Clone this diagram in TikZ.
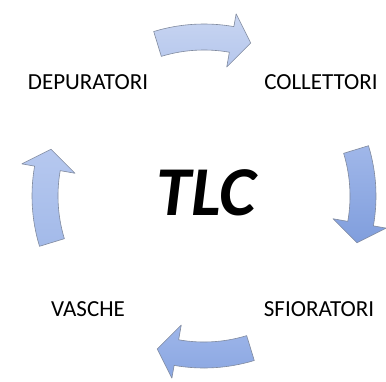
\documentclass[tikz,border=0pt]{standalone}
\usepackage{fontspec}
\setmainfont{Carlito}
\usepackage{tikz}

\definecolor{rimgray}{RGB}{128,138,158}
\definecolor{topA}{RGB}{200,213,241}
\definecolor{topB}{RGB}{182,199,237}
\definecolor{rightA}{RGB}{160,183,233}
\definecolor{rightB}{RGB}{128,158,221}
\definecolor{botA}{RGB}{158,182,234}
\definecolor{botB}{RGB}{138,166,225}
\definecolor{leftA}{RGB}{182,200,239}
\definecolor{leftB}{RGB}{163,186,233}

\tikzset{
    cyclearrow/.style={draw=rimgray,line width=0.6pt,line join=round},
    steplabel/.style={font=\fontsize{23}{27}\selectfont,inner sep=0pt},
    hublabel/.style={font=\fontsize{70}{76}\selectfont\bfseries\itshape,inner sep=0pt}
}

\begin{document}
\begin{tikzpicture}[x=1pt,y=-1pt]
        \useasboundingbox (0,0) rectangle (386,381);
        \coordinate (C) at (204,196);
        % four curved arrows round the centre
        \foreach \a/\ca/\cb in {-90/topA/topB,0/rightA/rightB,90/botA/botB,180/leftA/leftB}{
            \path[cyclearrow,top color=\ca,bottom color=\cb,shift={(C)}]
                ({\a-17}:146) -- ({\a-17}:172)
                arc[start angle=\a-17,end angle=\a+10,radius=172]
                -- ({\a+10}:185) -- ({\a+17}:160) -- ({\a+10}:131) -- ({\a+10}:146)
                arc[start angle=\a+10,end angle=\a-17,radius=146] -- cycle;
        }
        \node[hublabel] (TLC) at (206,193) {TLC};
        \node[steplabel] (DEP) at (88,82) {DEPURATORI};
        \node[steplabel] (COL) at (321,82) {COLLETTORI};
        \node[steplabel] (VAS) at (88,309) {VASCHE};
        \node[steplabel] (SFI) at (319,309) {SFIORATORI};
    \end{tikzpicture}
\end{document}
